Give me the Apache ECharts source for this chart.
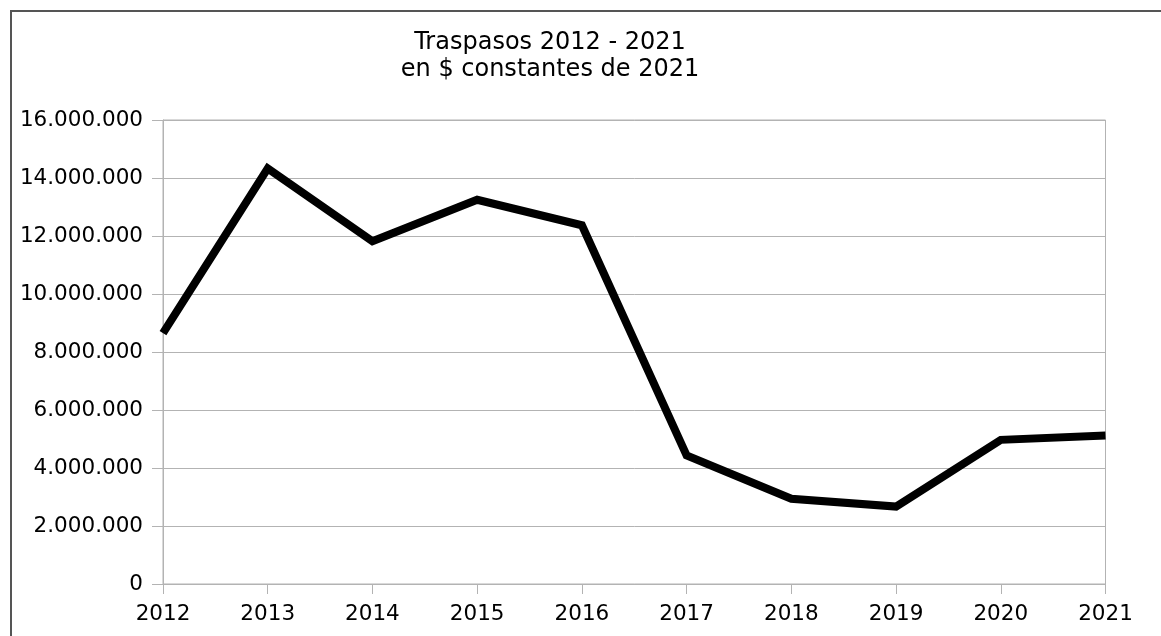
<!DOCTYPE html>
<html>
<head>
<meta charset="utf-8">
<script src="https://cdn.jsdelivr.net/npm/echarts@6/dist/echarts.min.js"></script>
<style>
html,body{margin:0;padding:0;background:#fff;}
#chart{width:1161px;height:636px;}
</style>
</head>
<body>
<div id="chart"></div>
<script>
var categories = ['2012','2013','2014','2015','2016','2017','2018','2019','2020','2021'];
var traspasos = [8650000, 14330000, 11820000, 13250000, 12370000, 4430000, 2940000, 2670000, 4970000, 5120000];
var titleText = 'Traspasos 2012 - 2021\nen $ constantes de 2021';

function fmt(v){
  return String(v).replace(/\B(?=(\d{3})+(?!\d))/g, '.');
}

var chart = echarts.init(document.getElementById('chart'), null, {renderer:'canvas'});
chart.setOption({
  backgroundColor: '#ffffff',
  animation: false,
  textStyle: {fontFamily: 'DejaVu Sans'},
  title: {
    text: titleText,
    left: 545,
    top: 24,
    textAlign: 'center',
    textStyle: {fontFamily: 'DejaVu Sans', fontSize: 24, fontWeight: 'normal', color: '#000', lineHeight: 27.5}
  },
  graphic: [{
    type: 'rect',
    silent: true,
    shape: {x: 11, y: 11, width: 3000, height: 3000},
    style: {fill: 'none', stroke: '#555', lineWidth: 2}
  }],
  grid: {
    left: 163, right: 55.5, top: 120, bottom: 52,
    show: true, borderColor: '#b3b3b3', borderWidth: 1, backgroundColor: 'transparent'
  },
  xAxis: {
    type: 'category',
    data: categories,
    boundaryGap: false,
    axisLine: {show: true, lineStyle: {color: '#b3b3b3', width: 1}},
    axisTick: {show: true, length: 10, alignWithLabel: true, lineStyle: {color: '#b3b3b3'}},
    axisLabel: {color: '#000', fontSize: 21.5, fontFamily: 'DejaVu Sans', margin: 19},
    splitLine: {show: false}
  },
  yAxis: {
    type: 'value',
    min: 0, max: 16000000, interval: 2000000,
    axisLine: {show: true, lineStyle: {color: '#b3b3b3', width: 1}},
    axisTick: {show: true, length: 11, lineStyle: {color: '#b3b3b3'}},
    axisLabel: {color: '#000', fontSize: 21.5, fontFamily: 'DejaVu Sans', margin: 20, formatter: fmt},
    splitLine: {show: true, lineStyle: {color: '#b3b3b3', width: 1}}
  },
  series: [{
    type: 'line',
    data: traspasos,
    showSymbol: false,
    symbol: 'none',
    lineStyle: {color: '#000', width: 8, join: 'miter', cap: 'butt'},
    itemStyle: {color: '#000'}
  }]
});
</script>
</body>
</html>
